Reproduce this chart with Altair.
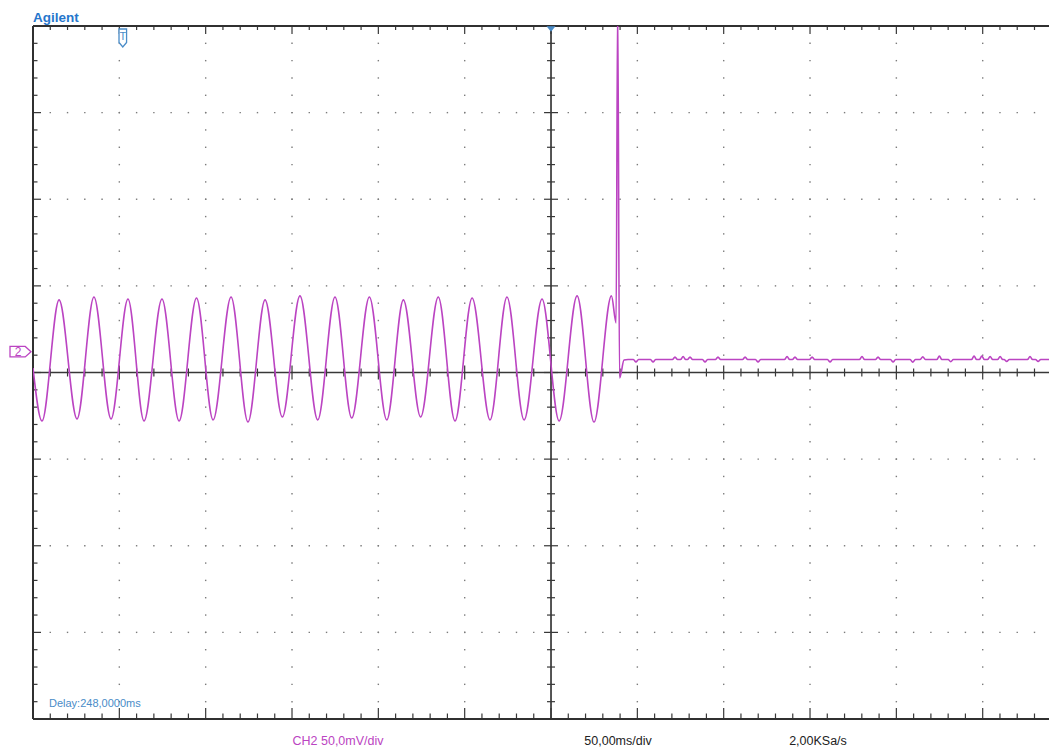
import altair as alt
import pandas as pd

# ---------------- values read from the screen ----------------
# time in ms (screen centre = delay 248 ms), CH2 voltage in mV
wave_t = [-52.0, -46.8, -36.9, -26.5, -16.7, -6.8, 3.0, 12.3, 22.7, 32.6,
          42.7, 52.3, 62.7, 72.5, 82.4, 92.4, 102.6, 112.9, 122.9, 132.6,
          142.8, 152.9, 162.5, 172.5, 182.7, 192.4, 202.3, 212.7, 222.5, 232.4,
          242.8, 252.7, 263.1, 272.9, 283.0, 285.7, 286.6, 287.7, 290.3, 292.6,
          295.7, 297.2, 298.7, 305.6, 307.1, 308.6, 318.3, 319.8, 321.3, 323.0,
          324.5, 326.0, 327.0, 328.5, 330.0, 335.7, 337.2, 338.7, 343.2, 344.7,
          346.2, 358.9, 360.4, 361.9, 366.4, 367.9, 369.4, 383.2, 384.7, 386.2,
          387.8, 389.3, 390.8, 397.7, 399.2, 400.7, 408.1, 409.6, 411.1, 426.6,
          428.1, 429.6, 435.9, 437.4, 438.9, 444.6, 446.1, 447.6, 456.0, 457.5,
          459.0, 461.8, 463.3, 464.8, 471.4, 472.9, 474.4, 478.0, 479.5, 481.0,
          491.5, 493.0, 494.5, 496.0, 497.5, 499.0, 500.8, 502.3, 503.8, 506.6,
          508.1, 509.6, 510.4, 511.9, 513.4, 523.9, 525.4, 526.9, 528.6, 530.1,
          531.6, 541.1]
wave_v = [2.6, -28.0, 41.9, -26.8, 43.6, -26.8, 42.4, -28.0, 42.4, -28.0,
          43.0, -27.4, 43.6, -28.6, 41.9, -25.7, 44.2, -27.4, 43.6, -26.3,
          43.6, -27.4, 41.9, -25.7, 43.6, -28.0, 43.0, -27.4, 43.6, -27.4,
          42.4, -28.0, 44.2, -28.6, 44.2, 28.6, 215.0, -3.2, 7.2, 7.5,
          7.5, 6.1, 7.5, 7.5, 6.1, 7.5, 7.5, 8.9, 7.5, 7.5,
          9.2, 7.5, 7.5, 8.9, 7.5, 7.5, 6.1, 7.5, 7.5, 8.9,
          7.5, 7.5, 8.9, 7.5, 7.5, 6.1, 7.5, 7.5, 9.2, 7.5,
          7.5, 8.9, 7.5, 7.5, 8.9, 7.5, 7.5, 6.1, 7.5, 7.5,
          9.2, 7.5, 7.5, 8.9, 7.5, 7.5, 6.1, 7.5, 7.5, 5.9,
          7.5, 7.5, 9.1, 7.5, 7.5, 9.5, 7.5, 7.5, 6.2, 7.5,
          7.5, 9.5, 7.5, 7.5, 9.5, 7.5, 7.5, 9.2, 7.5, 7.5,
          9.2, 7.5, 7.5, 6.4, 7.5, 7.5, 9.2, 7.5, 7.5, 6.4,
          7.5, 7.5]

# screen settings
T_LEFT = -52.0          # ms at left edge of screen
T_RIGHT = 536.4         # ms at right edge of the captured image
V_MIN, V_MAX = -200.0, 200.0
DIV_T = 50.0            # ms/div
DIV_V = 50.0            # mV/div
CENTER_T = 248.0        # delay
TRIGGER_T = 0.0
CH2_OFFSET = 12.0       # mV, channel-2 ground marker

brand_text = ["Agilent"]
delay_text = ["Delay:248,0000ms"]
ch2_text = ["CH2 50,0mV/div"]
time_text = ["50,00ms/div"]
rate_text = ["2,00KSa/s"]
ch_label = ["2"]
trig_label = ["T"]

# ---------------- layout ----------------
W, H = 1016, 693
PT = (T_RIGHT - T_LEFT) / W     # ms per pixel
PV = (V_MAX - V_MIN) / H        # mV per pixel

xs = alt.Scale(domain=[T_LEFT, T_RIGHT], nice=False, zero=False)
ys = alt.Scale(domain=[V_MIN, V_MAX], nice=False, zero=False)


def X(f):
    return alt.X(f, type="quantitative", scale=xs, axis=None)


def Y(f):
    return alt.Y(f, type="quantitative", scale=ys, axis=None)


# dotted grid
dots = []
n_minor_t = int((T_RIGHT - T_LEFT) // (DIV_T / 5))
n_minor_v = int(round((V_MAX - V_MIN) / (DIV_V / 5)))
for k in range(1, 12):
    t = T_LEFT + k * DIV_T
    if abs(t - CENTER_T) < 1e-6:
        continue
    for j in range(1, n_minor_v):
        dots.append({"x": t, "y": V_MIN + j * DIV_V / 5})
for k in (-3, -2, -1, 1, 2, 3):
    v = k * DIV_V
    for i in range(1, n_minor_t + 1):
        dots.append({"x": T_LEFT + i * DIV_T / 5, "y": v})
dots_df = pd.DataFrame(dots)

# tick marks
ticks = []
for i in range(1, n_minor_t + 1):
    t = T_LEFT + i * DIV_T / 5
    major = i % 5 == 0
    ticks.append({"x": t, "x2": t, "y": V_MAX, "y2": V_MAX - (8 if major else 4) * PV})
    ticks.append({"x": t, "x2": t, "y": V_MIN, "y2": V_MIN + (11 if major else 5.5) * PV})
    l = 7 if major else 4
    ticks.append({"x": t, "x2": t, "y": -l * PV, "y2": l * PV})
for j in range(1, n_minor_v):
    v = V_MIN + j * DIV_V / 5
    major = j % 5 == 0
    ticks.append({"x": T_LEFT, "x2": T_LEFT + (8 if major else 4.5) * PT, "y": v, "y2": v})
    l = 7 if major else 4
    ticks.append({"x": CENTER_T - l * PT, "x2": CENTER_T + l * PT, "y": v, "y2": v})
ticks_df = pd.DataFrame(ticks)

frame_df = pd.DataFrame([
    {"x": T_LEFT, "x2": T_LEFT, "y": V_MIN, "y2": V_MAX},
    {"x": T_LEFT, "x2": T_RIGHT, "y": V_MAX, "y2": V_MAX},
    {"x": T_LEFT, "x2": T_RIGHT, "y": V_MIN, "y2": V_MIN},
])
center_df = pd.DataFrame([
    {"x": CENTER_T, "x2": CENTER_T, "y": V_MIN, "y2": V_MAX},
    {"x": T_LEFT, "x2": T_RIGHT, "y": 0.0, "y2": 0.0},
])

wave_df = pd.DataFrame({"t": wave_t, "v": wave_v})

dots_layer = alt.Chart(dots_df).mark_square(size=2, color="#7c7c7c", opacity=1).encode(
    x=X("x"), y=Y("y"))


def rules(df, color, width):
    return alt.Chart(df).mark_rule(color=color, strokeWidth=width).encode(
        x=X("x"), x2="x2", y=Y("y"), y2="y2")


center_layer = rules(center_df, "#383838", 1.7)
ticks_layer = rules(ticks_df, "#383838", 1.2)
frame_layer = rules(frame_df, "#303030", 2)

BLUE = "#4a8cc8"
MAGENTA = "#bb44c2"

wave_layer = alt.Chart(wave_df).mark_line(
    color=MAGENTA, strokeWidth=1.6, interpolate="monotone", clip=True
).encode(x=X("t"), y=Y("v"))

trig_df = pd.DataFrame({"t": [TRIGGER_T], "label": trig_label})
trig_shape = alt.Chart(trig_df).mark_point(
    shape="M-0.42,-1 L0.42,-1 L0.42,0.5 L0,1 L-0.42,0.5 Z",
    size=324, filled=True, fill="white", stroke=BLUE, strokeWidth=1.3, opacity=1
).encode(x=X("t"), y=alt.value(12))
trig_txt = alt.Chart(trig_df).mark_text(
    font="Liberation Sans", fontSize=11, color=BLUE, align="center", baseline="middle"
).encode(x=X("t"), y=alt.value(10.5), text="label:N")

top_marker = alt.Chart(pd.DataFrame({"t": [CENTER_T]})).mark_point(
    shape="M-1,-0.6 L1,-0.6 L0,0.6 Z", size=81, filled=True, color=BLUE, opacity=1
).encode(x=X("t"), y=alt.value(3))

ch_df = pd.DataFrame({"v": [CH2_OFFSET], "label": ch_label})
ch_shape = alt.Chart(ch_df).mark_point(
    shape="M-1,-0.5 L0.45,-0.5 L1,0 L0.45,0.5 L-1,0.5 Z",
    size=441, filled=True, fill="white", stroke=MAGENTA, strokeWidth=1.3, opacity=1
).encode(x=alt.value(-12.5), y=Y("v"))
ch_txt = alt.Chart(ch_df).mark_text(
    font="Liberation Sans", fontSize=12, color=MAGENTA, align="center", baseline="middle"
).encode(x=alt.value(-15), y=Y("v"), text="label:N")


def label(txt, px, py, color, size, align="center", weight="normal"):
    return alt.Chart(pd.DataFrame({"label": txt})).mark_text(
        font="Liberation Sans", fontSize=size, color=color, align=align,
        baseline="middle", fontWeight=weight
    ).encode(x=alt.value(px), y=alt.value(py), text="label:N")


texts = [
    label(brand_text, 0, -8.5, "#2676cc", 13.5, align="left", weight="bold"),
    label(delay_text, 16, 678, BLUE, 11, align="left"),
    label(ch2_text, 305, 715, MAGENTA, 12.5),
    label(time_text, 585, 715, "#222222", 12.5),
    label(rate_text, 785, 715, "#222222", 12.5),
]

chart = alt.layer(
    dots_layer, center_layer, ticks_layer, frame_layer, wave_layer,
    trig_shape, trig_txt, top_marker, ch_shape, ch_txt, *texts
).properties(
    width=W, height=H,
    padding={"left": 25, "top": 18, "right": 0, "bottom": 28},
    autosize=alt.AutoSizeParams(type="none"),
    background="white",
).configure_view(stroke=None)

chart.save("out.html", embed_options={"renderer": "svg", "actions": False})
